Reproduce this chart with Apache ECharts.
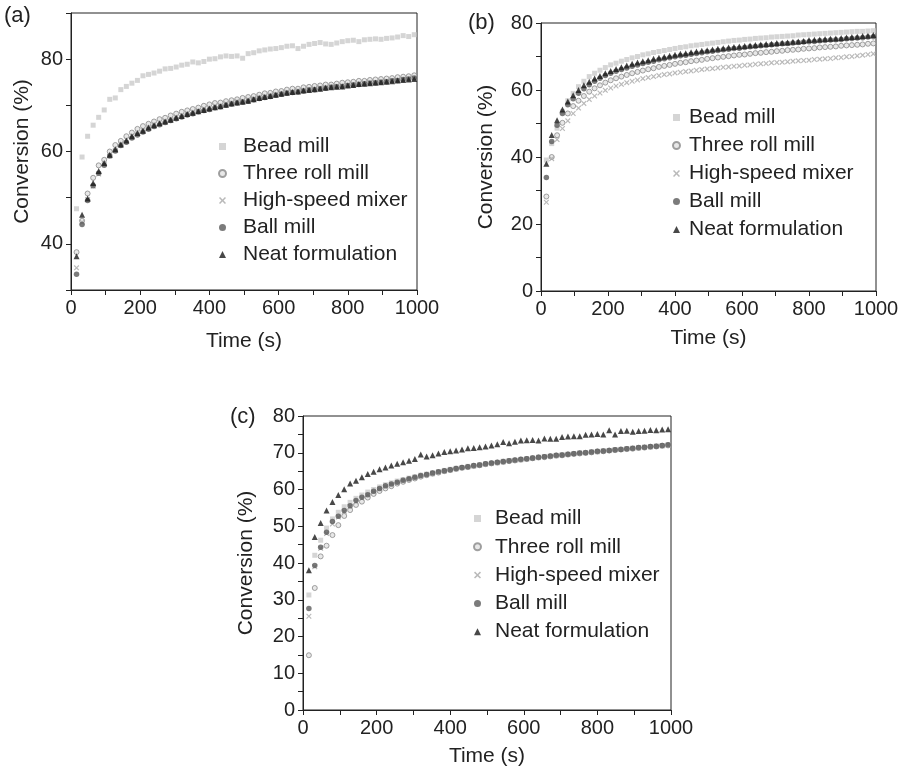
<!DOCTYPE html>
<html>
<head>
<meta charset="utf-8">
<script src="https://cdn.jsdelivr.net/npm/echarts@6/dist/echarts.min.js"></script>
<style>
html,body{margin:0;padding:0;background:#fff;}
#c{width:909px;height:772px;}
</style>
</head>
<body>
<div id="c"></div>
<script>
// Time (s)
const T = [16,32,48,64,80,96,112,128,144,160,176,192,208,224,240,256,272,288,304,320,336,352,368,384,400,416,432,448,464,480,496,512,528,544,560,576,592,608,624,640,656,672,688,704,720,736,752,768,784,800,816,832,848,864,880,896,912,928,944,960,976,992];

const names = ['Bead mill','Three roll mill','High-speed mixer','Ball mill','Neat formulation'];

// Panel (a)
const aBead = [47.6,58.8,63.3,65.7,67.4,69.0,71.3,71.6,73.4,74.1,74.8,75.4,76.4,76.7,77.0,77.4,77.9,78.0,78.3,78.7,78.9,79.4,79.2,79.5,80.0,80.1,80.5,80.7,80.6,80.7,80.2,81.2,81.4,81.8,82.0,82.2,82.3,82.5,82.8,82.9,82.3,82.8,83.2,83.4,83.6,83.3,83.2,83.5,83.8,84.0,84.1,83.8,84.2,84.3,84.4,84.3,84.5,84.6,84.8,85.1,84.9,85.3];
const aThree = [38.2,45.0,50.9,54.3,57.0,58.2,60.0,61.4,62.3,63.3,64.1,64.9,65.5,66.0,66.5,67.0,67.3,67.8,68.2,68.6,68.9,69.2,69.5,69.9,70.2,70.5,70.6,70.9,71.1,71.3,71.6,71.8,72.0,72.3,72.6,72.7,73.0,73.1,73.4,73.6,73.6,73.9,74.0,74.2,74.3,74.5,74.5,74.7,74.9,75.0,75.1,75.3,75.3,75.5,75.6,75.7,75.8,75.9,76.1,76.2,76.3,76.5];
const aMixer = [34.8,44.7,49.6,52.5,55.1,57.2,59.0,60.2,61.6,62.6,63.4,63.8,64.6,65.0,65.9,66.3,66.6,67.1,67.5,67.8,68.3,68.6,68.9,69.3,69.5,69.9,70.0,70.4,70.6,70.9,71.0,71.3,71.5,71.8,72.0,72.3,72.4,72.7,72.9,73.0,73.2,73.3,73.5,73.6,73.8,73.9,74.1,74.2,74.3,74.4,74.6,74.7,74.9,75.0,75.0,75.2,75.3,75.4,75.5,75.7,75.8,75.9];
const aBall = [33.4,44.2,49.4,52.6,55.3,57.0,59.0,60.1,61.3,62.0,62.9,63.6,64.2,64.8,65.4,65.8,66.3,66.7,67.1,67.5,67.9,68.2,68.6,68.9,69.1,69.5,69.7,70.0,70.3,70.5,70.7,70.9,71.2,71.5,71.7,71.9,72.2,72.4,72.6,72.8,72.9,73.1,73.3,73.4,73.6,73.7,73.9,74.0,74.1,74.3,74.4,74.5,74.7,74.8,74.9,75.0,75.1,75.3,75.4,75.6,75.7,75.9];
const aNeat = [37.3,46.3,49.8,53.2,55.8,57.5,59.3,60.5,61.5,62.4,63.3,64.0,64.5,65.2,65.7,66.1,66.5,66.9,67.3,67.7,68.1,68.4,68.7,69.0,69.3,69.6,69.8,70.1,70.4,70.6,70.8,71.0,71.3,71.6,71.8,72.0,72.3,72.5,72.7,72.9,73.0,73.2,73.3,73.5,73.6,73.8,73.9,74.0,74.1,74.3,74.4,74.6,74.7,74.8,74.9,75.0,75.1,75.2,75.4,75.5,75.6,75.7];

// Panel (b)
const bBead = [39.1,44.0,48.6,53.5,56.8,59.0,61.0,62.6,64.0,65.0,65.9,66.7,67.5,68.0,68.6,69.1,69.6,70.0,70.5,70.8,71.2,71.5,71.8,72.1,72.4,72.7,72.9,73.2,73.4,73.6,73.8,74.0,74.2,74.4,74.6,74.8,74.9,75.1,75.2,75.4,75.5,75.6,75.8,75.9,76.0,76.1,76.2,76.4,76.5,76.6,76.7,76.8,76.9,77.0,77.1,77.2,77.3,77.4,77.5,77.5,77.6,77.7];
const bThree = [28.2,40.0,46.5,50.2,53.0,55.2,56.8,58.2,59.5,60.5,61.4,62.2,62.9,63.5,64.0,64.5,65.0,65.4,65.8,66.2,66.5,66.9,67.2,67.5,67.8,68.1,68.3,68.6,68.8,69.0,69.3,69.5,69.7,69.9,70.1,70.3,70.5,70.6,70.8,71.0,71.1,71.3,71.4,71.6,71.7,71.9,72.0,72.1,72.3,72.4,72.5,72.7,72.8,72.9,73.0,73.2,73.3,73.4,73.5,73.6,73.8,73.9];
const bMixer = [26.5,39.5,45.2,48.5,50.8,53.0,54.6,56.0,57.2,58.2,59.1,59.9,60.6,61.2,61.7,62.2,62.6,63.0,63.4,63.7,64.0,64.3,64.6,64.8,65.1,65.3,65.5,65.7,65.9,66.1,66.3,66.4,66.6,66.8,66.9,67.1,67.2,67.4,67.5,67.7,67.8,67.9,68.1,68.2,68.3,68.4,68.6,68.7,68.8,68.9,69.1,69.2,69.3,69.4,69.6,69.7,69.9,70.0,70.2,70.4,70.6,70.8];
const bBall = [33.9,44.6,49.5,53.0,55.6,57.4,59.0,60.4,61.6,62.6,63.5,64.3,65.0,65.6,66.1,66.6,67.1,67.5,67.9,68.3,68.6,69.0,69.3,69.6,69.9,70.2,70.4,70.7,70.9,71.1,71.4,71.6,71.8,72.0,72.2,72.4,72.5,72.7,72.9,73.0,73.2,73.3,73.5,73.6,73.8,73.9,74.0,74.2,74.3,74.4,74.5,74.7,74.8,74.9,75.0,75.1,75.3,75.4,75.5,75.6,75.8,75.9];
const bNeat = [38.0,46.6,51.0,54.2,56.6,58.4,60.0,61.4,62.5,63.4,64.2,65.0,65.7,66.3,66.8,67.3,67.8,68.2,68.6,68.9,69.3,69.6,69.9,70.2,70.5,70.8,71.0,71.3,71.5,71.7,71.9,72.1,72.3,72.5,72.7,72.8,73.0,73.1,73.3,73.4,73.6,73.7,73.8,74.0,74.1,74.2,74.4,74.5,74.6,74.9,75.0,75.1,75.2,75.3,75.4,75.5,75.7,75.8,75.9,76.1,76.2,76.4];

// Panel (c)
const cBead = [31.3,42.1,46.2,49.5,52.0,53.8,55.3,56.5,57.6,58.5,59.3,60.0,60.7,61.3,61.8,62.3,62.7,63.1,63.5,63.9,64.2,64.6,64.9,65.2,65.5,65.8,66.0,66.3,66.5,66.8,67.0,67.2,67.4,67.7,67.9,68.0,68.2,68.4,68.6,68.8,69.0,69.1,69.3,69.4,69.6,69.8,69.9,70.0,70.2,70.4,70.5,70.6,70.8,70.9,71.1,71.2,71.3,71.5,71.6,71.8,71.9,72.1];
const cThree = [14.9,33.2,41.8,44.7,47.6,50.3,52.8,54.4,55.8,56.7,57.8,58.8,59.6,60.3,60.9,61.6,62.1,62.6,63.0,63.5,63.9,64.3,64.6,65.0,65.3,65.6,65.9,66.1,66.4,66.6,66.9,67.1,67.3,67.5,67.7,67.9,68.1,68.3,68.5,68.7,68.8,69.0,69.2,69.3,69.5,69.7,69.8,70.0,70.1,70.3,70.4,70.6,70.7,70.9,71.0,71.1,71.3,71.4,71.6,71.7,71.9,72.0];
const cMixer = [25.5,39.0,44.0,48.0,50.6,52.5,54.0,55.4,56.6,57.6,58.5,59.3,60.1,60.7,61.3,61.9,62.3,62.8,63.2,63.6,64.0,64.3,64.7,65.0,65.3,65.6,65.9,66.1,66.4,66.6,66.9,67.1,67.3,67.5,67.8,67.9,68.1,68.3,68.5,68.7,68.9,69.0,69.2,69.4,69.5,69.7,69.9,70.0,70.2,70.3,70.5,70.6,70.8,70.9,71.1,71.2,71.4,71.5,71.6,71.8,71.9,72.1];
const cBall = [27.6,39.3,44.3,48.4,51.3,52.7,54.3,55.6,57.0,57.9,58.6,59.5,60.3,61.0,61.5,62.0,62.5,62.9,63.3,63.8,64.1,64.5,64.8,65.1,65.4,65.7,66.0,66.2,66.5,66.7,67.0,67.2,67.4,67.6,67.8,68.0,68.2,68.4,68.6,68.8,68.9,69.1,69.3,69.4,69.6,69.7,69.9,70.0,70.2,70.4,70.5,70.6,70.8,70.9,71.1,71.2,71.4,71.5,71.7,71.8,72.0,72.2];
const cNeat = [38.0,47.1,50.9,54.3,56.6,58.5,60.1,61.6,62.4,63.3,64.2,64.8,65.5,66.0,66.5,67.0,67.4,67.8,68.3,69.5,69.0,69.3,69.8,70.2,70.4,70.6,70.9,71.2,71.3,71.5,71.7,72.0,72.3,72.9,72.6,73.0,73.3,73.4,73.5,73.3,73.9,73.8,73.8,74.3,74.4,74.5,74.5,74.9,75.0,75.1,75.0,76.1,75.0,75.9,76.0,75.7,75.9,76.0,76.2,76.1,76.3,76.4];

const panels = [
  [aBead, aThree, aMixer, aBall, aNeat],
  [bBead, bThree, bMixer, bBall, bNeat],
  [cBead, cThree, cMixer, cBall, cNeat]
];

const FONT = "'Liberation Sans', Arial, Helvetica, sans-serif";
const INK = '#222';
const XPATH = 'path://M0,1.5L1.5,0L5,3.5L8.5,0L10,1.5L6.5,5L10,8.5L8.5,10L5,6.5L1.5,10L0,8.5L3.5,5Z';

const styles = [
  {symbol:'rect', symbolSize:5, itemStyle:{color:'#cacaca'}},
  {symbol:'circle', symbolSize:5, itemStyle:{color:'#e2e2e2', borderColor:'#8a8a8a', borderWidth:1}},
  {symbol:XPATH, symbolSize:5.5, itemStyle:{color:'#a8a8a8'}},
  {symbol:'circle', symbolSize:5.5, itemStyle:{color:'#5a5a5a'}},
  {symbol:'triangle', symbolSize:6, itemStyle:{color:'#1a1a1a'}}
];

const grids = [
  {left:71, top:13, width:346, height:277},
  {left:541, top:23, width:335, height:268},
  {left:303, top:416, width:368, height:294}
];
const yCfg = [
  {min:30, max:90, interval:10, show:[40,60,80], nameGap:38},
  {min:0, max:80, interval:10, show:[0,20,40,60,80], nameGap:44},
  {min:0, max:80, interval:5, show:[0,10,20,30,40,50,60,70,80], nameGap:46}
];
const xNameGap = [41, 37, 36];

const option = {
  animation:false,
  backgroundColor:'#fff',
  textStyle:{fontFamily:FONT},
  grid: grids.map(g => Object.assign({show:true, borderColor:INK, borderWidth:1, containLabel:false}, g)),
  xAxis: grids.map((g,i) => ({
    type:'value', gridIndex:i, min:0, max:1000, interval:100,
    name:'Time (s)', nameLocation:'middle', nameGap:xNameGap[i],
    nameTextStyle:{fontSize:21, color:INK, fontFamily:FONT},
    axisLine:{show:true, lineStyle:{color:INK, width:1}},
    axisTick:{show:true, inside:false, length:5, lineStyle:{color:INK}},
    axisLabel:{fontSize:20, color:INK, fontFamily:FONT, margin:8,
      formatter: v => (v % 200 === 0 ? String(v) : '')},
    splitLine:{show:false}
  })),
  yAxis: grids.map((g,i) => ({
    type:'value', gridIndex:i, min:yCfg[i].min, max:yCfg[i].max, interval:yCfg[i].interval,
    name:'Conversion (%)', nameLocation:'middle', nameGap:yCfg[i].nameGap,
    nameTextStyle:{fontSize:21, color:INK, fontFamily:FONT},
    axisLine:{show:true, lineStyle:{color:INK, width:1}},
    axisTick:{show:true, inside:false, length:5, lineStyle:{color:INK}},
    axisLabel:{fontSize:20, color:INK, fontFamily:FONT, margin:8,
      formatter: v => (yCfg[i].show.indexOf(v) >= 0 ? String(v) : '')},
    splitLine:{show:false}
  })),
  legend: [
    {left:213, top:131, itemGap:6, textPad:12},
    {left:667, top:102, itemGap:7, textPad:4},
    {left:468, top:503, itemGap:7.3, textPad:9}
  ].map(l => ({
    data:names, orient:'vertical', left:l.left, top:l.top, itemGap:l.itemGap,
    itemWidth:7, itemHeight:7, selectedMode:false,
    textStyle:{fontSize:21, color:INK, fontFamily:FONT, padding:[0,0,0,l.textPad]}
  })),
  graphic: [
    {type:'text', left:4, top:5, style:{text:'(a)', fontSize:22, fill:INK, fontFamily:FONT}},
    {type:'text', left:468, top:12, style:{text:'(b)', fontSize:22, fill:INK, fontFamily:FONT}},
    {type:'text', left:230, top:406, style:{text:'(c)', fontSize:22, fill:INK, fontFamily:FONT}}
  ],
  series: []
};

panels.forEach((arrs, p) => {
  arrs.forEach((vals, k) => {
    option.series.push(Object.assign({
      type:'scatter', name:names[k], xAxisIndex:p, yAxisIndex:p,
      data: T.map((t, i) => [t, vals[i]]),
      silent:true
    }, styles[k]));
  });
});

const chart = echarts.init(document.getElementById('c'), null, {renderer:'canvas'});
chart.setOption(option);
</script>
</body>
</html>
